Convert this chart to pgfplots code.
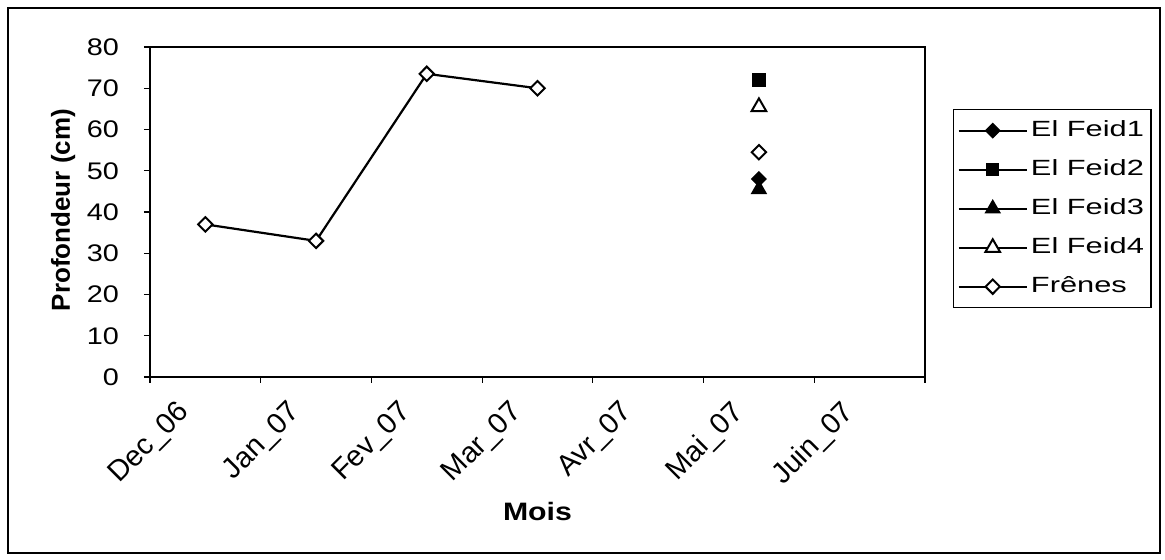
\documentclass[border=0pt]{standalone}
\usepackage{pgfplots}
\pgfplotsset{compat=1.18}
\usepackage{fontspec}
\setmainfont{Liberation Sans}
\newfontfamily\wide[FakeStretch=1.2]{Liberation Sans}
\newfontfamily\wider[FakeStretch=1.4]{Liberation Sans}

\begin{document}
\begin{tikzpicture}
\begin{axis}[
    at={(0,0)}, anchor=south west,
    scale only axis,
    width=387.5pt, height=165pt,
    xmin=0, xmax=7, ymin=0, ymax=80,
    xtick={0,...,7},
    xticklabels={Dec\_06, Jan\_07, Fev\_07, Mar\_07, Avr\_07, Mai\_07, Juin\_07, {}},
    ytick={0,10,...,80},
    tick align=outside,
    major tick length=3pt,
    xtick pos=bottom, ytick pos=left,
    axis line style={line width=0.8pt},
    tick style={black, line width=0.6pt},
    /pgf/number format/assume math mode=true,
    xticklabel style={font=\fontsize{14.5}{16}\selectfont,
        xshift=13pt, yshift=-3pt, rotate=45, anchor=north east},
    yticklabel style={font=\wide\fontsize{12}{14}\selectfont, xshift=-9pt},
    xlabel={\textbf{Mois}},
    ylabel={\textbf{Profondeur (cm)}},
    xlabel style={font=\wide\fontsize{12.6}{15}\selectfont,
        at={(axis description cs:0.5,-0.409)}, anchor=center},
    ylabel style={font=\fontsize{13}{15}\selectfont,
        at={(axis description cs:-0.112,0.506)}, anchor=center},
    unbounded coords=jump,
    legend style={
        at={(1.036,0.812)}, anchor=north west,
        font=\wider\fontsize{11}{13}\selectfont,
        draw=black, line width=0.6pt,
        row sep=2.5pt, inner sep=2pt,
        nodes={inner sep=1.5pt, text height=10pt, text depth=4pt},
        cells={anchor=west},
    },
    legend image code/.code={
        \draw[mark repeat=2, mark phase=2, line width=1.1pt]
            plot coordinates {(0cm,0cm) (0.6cm,0cm) (1.2cm,0cm)};
    },
    every axis plot/.append style={black, line width=1.1pt},
]
% El Feid1
\addplot[mark=diamond*, mark size=3.6pt,
    mark options={fill=black, line width=0.6pt, xscale=1.33}]
    coordinates {(5.5,48)};
% El Feid2
\addplot[mark=square*, mark size=3pt, mark options={fill=black, line width=0.6pt}]
    coordinates {(5.5,72)};
% El Feid3
\addplot[mark=triangle*, mark size=4.2pt, mark options={fill=black, line width=0.6pt}]
    coordinates {(5.5,45.5)};
% El Feid4
\addplot[mark=triangle*, mark size=4.2pt, mark options={fill=white, line width=1pt}]
    coordinates {(5.5,65.5)};
% Frenes
\addplot[mark=diamond*, mark size=3.6pt,
    mark options={fill=white, line width=1pt, xscale=1.33}]
    coordinates {(0.5,37) (1.5,33) (2.5,73.5) (3.5,70) (4.5,nan) (5.5,54.5)};
\legend{El Feid1, El Feid2, El Feid3, El Feid4, Frênes}
\end{axis}
\draw[line width=1pt] (-71pt,-88pt) rectangle (505pt,184.5pt);
\path (-75pt,-91.5pt) rectangle (507.5pt,188.5pt);
\end{tikzpicture}
\end{document}
